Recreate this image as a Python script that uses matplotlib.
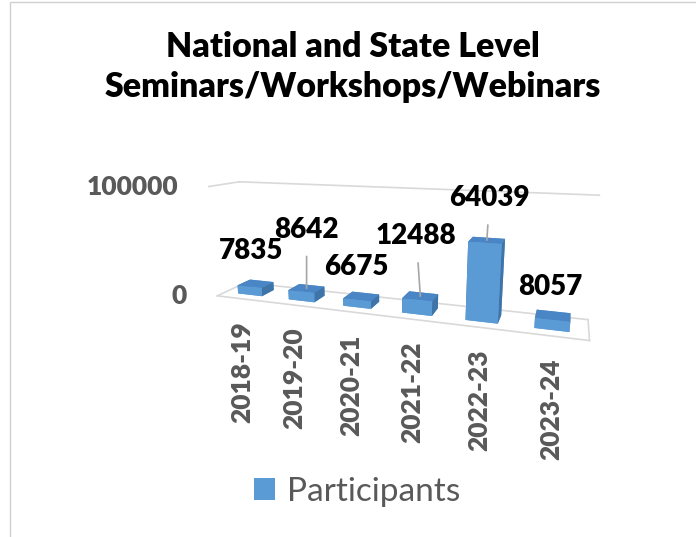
import numpy as np
import matplotlib
matplotlib.use("Agg")
import matplotlib.pyplot as plt
from matplotlib.patches import Patch, Rectangle
from mpl_toolkits.mplot3d import proj3d

# ---- data ----
categories = ["2018-19", "2019-20", "2020-21", "2021-22", "2022-23", "2023-24"]
participants = [7835, 8642, 6675, 12488, 64039, 8057]
value_ticks = [0, 100000]
value_tick_labels = ["0", "100000"]
series_name = "Participants"
title_text = "National and State Level\nSeminars/Workshops/Webinars"

# ---- style ----
FONT = "Lato"
C_FRONT = "#5B9BD5"
C_TOP = "#4A86C5"
C_SIDE = "#3F74A8"
C_GRID = "#D9D9D9"
C_TEXT = "#595959"

W, H = 696, 537
fig = plt.figure(figsize=(W / 100, H / 100), dpi=100)
fig.patch.set_facecolor("white")

ax = fig.add_axes([35 / W, 11 / H, 1.0, 1.0], projection="3d")
ax.set_axis_off()
n = len(categories)
xs = np.arange(n)
xmin, xmax = -0.5, n - 0.5
ymin, ymax = 0.0, 1.0
zmin, zmax = value_ticks[0], value_ticks[-1]
ax.set_xlim(xmin, xmax)
ax.set_ylim(ymin, ymax)
ax.set_zlim(zmin, zmax)
ax.set_box_aspect((3.2, 0.45, 1.0), zoom=0.73)
ax.view_init(elev=13, azim=-71)
ax.set_proj_type("persp", focal_length=0.18)

# gridlines (back wall + left wall) and floor outline
for t in value_ticks:
    ax.plot([xmin, xmax], [ymax, ymax], [t, t], color=C_GRID, lw=1.2, zorder=0)
    ax.plot([xmin, xmin], [ymin, ymax], [t, t], color=C_GRID, lw=1.2, zorder=0)
ax.plot([xmin, xmax], [ymin, ymin], [zmin, zmin], color=C_GRID, lw=1.2, zorder=0)
ax.plot([xmax, xmax], [ymin, ymax], [zmin, zmin], color=C_GRID, lw=1.2, zorder=0)

# bars
bw, bd = 0.48, 0.45
y0 = (ymax - ymin - bd) / 2
facecols = []
for _ in participants:
    facecols += [C_FRONT, C_TOP, C_FRONT, C_FRONT, C_SIDE, C_SIDE]
ax.bar3d(xs - bw / 2, np.full(n, y0), np.zeros(n), bw, bd, participants,
         color=facecols, shade=False, edgecolor="none")

M = ax.get_proj()

def proj(x, y, z):
    px, py, _ = proj3d.proj_transform(x, y, z, M)
    return px, py

# value axis labels
for t, lab in zip(value_ticks, value_tick_labels):
    px, py = proj(xmin, ymin, t)
    ax.annotate(lab, xy=(px, py), xytext=(-22, 0), textcoords="offset points",
                ha="right", va="center", fontsize=19, fontweight="heavy",
                color=C_TEXT, family=FONT)

# category labels
for x, lab in zip(xs, categories):
    px, py = proj(x, ymin, zmin)
    ax.annotate(lab, xy=(px, py), xytext=(0, -16), textcoords="offset points",
                ha="center", va="top", rotation=90, fontsize=19,
                fontweight="heavy", color=C_TEXT, family=FONT)

# data labels (offsets in points, leader lines where Excel drew them)
label_offsets = [(-3.6, 14), (0, 33), (-3.6, 12), (-3, 34), (2, 21), (-2, 11)]
leaders = [False, True, False, True, True, False]
for x, v, off, ld in zip(xs, participants, label_offsets, leaders):
    px, py = proj(x, (ymin + ymax) / 2, v)
    ap = dict(arrowstyle="-", color="#A6A6A6", lw=1.2, shrinkA=8, shrinkB=0) if ld else None
    ax.annotate(f"{v}", xy=(px, py), xytext=off, textcoords="offset points",
                ha="center", va="bottom", fontsize=20, fontweight="heavy",
                color="black", family=FONT, arrowprops=ap)

# title
fig.text(353 / W, 1 - 67 / H, title_text, ha="center", va="center",
         fontsize=24.4, fontweight="heavy", family=FONT, linespacing=1.33,
         color="black")

# legend
fig.legend(handles=[Patch(facecolor=C_FRONT, edgecolor="none")],
           labels=[series_name], loc="center",
           bbox_to_anchor=(357 / W, 1 - 492 / H), frameon=False,
           prop=dict(family=FONT, size=24), labelcolor=C_TEXT,
           handlelength=0.65, handleheight=0.65, handletextpad=0.35)

# chart border
fig.patches.append(Rectangle((10 / W, -0.01), 1.0, 1 - 2 / H + 0.01,
                             transform=fig.transFigure, fill=False,
                             edgecolor="#D0D0D0", lw=1.0))

fig.savefig("out.png", dpi=100)
